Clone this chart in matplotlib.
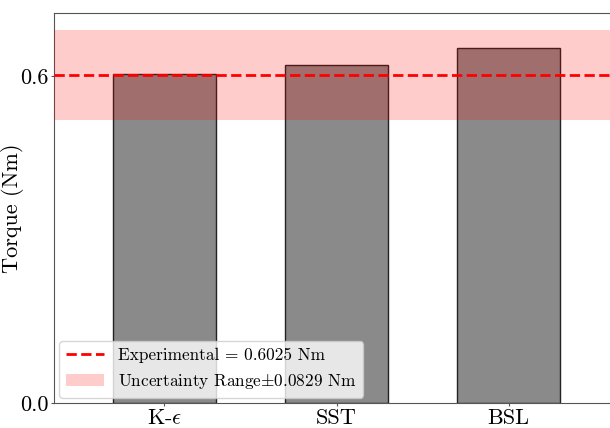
import numpy as np
import matplotlib
matplotlib.use('Agg')
import matplotlib.pyplot as plt

models = ['K-$\\epsilon$', 'SST', 'BSL']
torque = [0.6037, 0.620, 0.651]
experimental = 0.6025
uncertainty = 0.0829

plt.rcParams['font.family'] = 'serif'
plt.rcParams['font.serif'] = ['cmr10']
plt.rcParams['mathtext.fontset'] = 'cm'
plt.rcParams['axes.formatter.use_mathtext'] = True

fig = plt.figure(figsize=(6.1, 4.28), dpi=100)
ax = fig.add_axes([54 / 610, 25 / 428, (619 - 54) / 610, 390 / 428])

x = np.arange(len(models))
ax.bar(x, torque, width=0.6, color='#8a8a8a', edgecolor='#222222', linewidth=1.0, zorder=2)
ax.axhline(experimental, color='red', linestyle='--', linewidth=2,
           label='Experimental = %.4f Nm' % experimental, zorder=4)
ax.axhspan(experimental - uncertainty, experimental + uncertainty, color='red', alpha=0.2,
           linewidth=0, label='Uncertainty Range$\\pm$%.4f Nm' % uncertainty, zorder=3)

ax.set_xlim(-0.64, 2.64)
ax.set_ylim(0, 0.716)
ax.set_xticks(x)
ax.set_xticklabels(models, fontsize=16)
ax.set_yticks([0.0, 0.6])
ax.set_yticklabels(['0.0', '0.6'], fontsize=16)
ax.tick_params(length=2.5, pad=1.5, color='#555555')
ax.set_ylabel('Torque (Nm)', fontsize=16)
ax.yaxis.set_label_coords(-0.053, 0.5)
for s in ax.spines.values():
    s.set_color('#555555')
ax.legend(loc='lower left', fontsize=12.4, framealpha=0.8, borderaxespad=0.3,
          handlelength=2.2)

fig.savefig('out.png', dpi=100)
